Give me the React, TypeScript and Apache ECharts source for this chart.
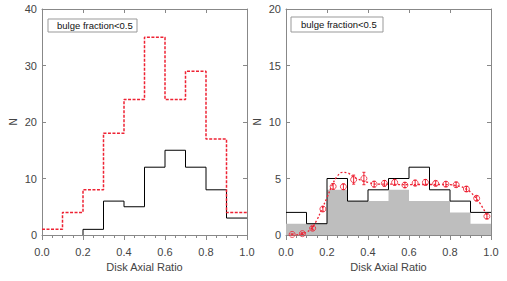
import React, { useEffect, useRef } from "react";
import * as echarts from "echarts";

// Bin edges (left edges) shared by all histograms
const binStarts = [0.0, 0.1, 0.2, 0.3, 0.4, 0.5, 0.6, 0.7, 0.8, 0.9];
const binWidth = 0.1;

// Left panel
const leftRed = [1, 4, 8, 18, 24, 35, 24, 29, 17, 4];
const leftBlack = [0, 0, 1, 6, 5, 12, 15, 12, 8, 3];

// Right panel
const rightBlack = [2, 1, 5, 3, 4, 5, 6, 4, 3, 2];
const rightGray = [1, 1, 4, 3, 3, 4, 3, 3, 2, 1];

const pointX = [0.03, 0.08, 0.13, 0.18, 0.23, 0.28, 0.33, 0.38, 0.43, 0.48, 0.53, 0.58, 0.63, 0.68, 0.73, 0.78, 0.83, 0.88, 0.93, 0.98];
const pointY = [0.05, 0.12, 0.6, 2.3, 4.3, 4.27, 4.9, 5.0, 4.5, 4.57, 4.66, 4.42, 4.6, 4.66, 4.57, 4.5, 4.45, 4.07, 3.25, 1.65];
const pointErr = [0.05, 0.08, 0.15, 0.2, 0.25, 0.25, 0.4, 0.55, 0.25, 0.25, 0.25, 0.22, 0.25, 0.25, 0.22, 0.22, 0.22, 0.22, 0.22, 0.2];

const curveX = [0.05, 0.075, 0.1, 0.125, 0.15, 0.175, 0.2, 0.225, 0.25, 0.275, 0.3, 0.325, 0.35, 0.375, 0.4, 0.45, 0.5, 0.55, 0.6, 0.65, 0.7, 0.75, 0.8, 0.85, 0.875, 0.9, 0.925, 0.95, 0.985];
const curveY = [0.0, 0.1, 0.25, 0.6, 1.3, 2.3, 3.3, 4.4, 5.2, 5.55, 5.5, 5.2, 4.95, 4.8, 4.65, 4.5, 4.5, 4.47, 4.45, 4.47, 4.47, 4.47, 4.45, 4.3, 4.1, 3.8, 3.3, 2.7, 1.6];

const xTicks = [0, 0.2, 0.4, 0.6, 0.8, 1.0];
const leftYMax = 40;
const rightYMax = 20;

const legendText = "bulge fraction<0.5";
const xName = "Disk Axial Ratio";
const yName = "N";

const RED = "#ee2233";
const AXIS = "#888888";
const LABEL = "#444444";
const FONT = "Liberation Sans";

function stepData(values: number[]) {
  const d: number[][] = [];
  let first = values.findIndex((v) => v !== 0);
  if (first < 0) first = 0;
  if (first > 0) d.push([binStarts[first], 0]);
  for (let i = first; i < values.length; i++) d.push([binStarts[i], values[i]]);
  d.push([binStarts[values.length - 1] + binWidth, values[values.length - 1]]);
  return d;
}

function axesFor(gridIndex: number, yMax: number, yInterval: number) {
  const x = [
    {
      type: "value", gridIndex, min: xTicks[0], max: xTicks[xTicks.length - 1], interval: 0.2,
      axisLine: { show: true, onZero: false, lineStyle: { color: AXIS, width: 1 } },
      axisTick: { show: true, inside: false, length: 5, lineStyle: { color: AXIS } },
      minorTick: { show: true, splitNumber: 4, length: 3, lineStyle: { color: AXIS } },
      splitLine: { show: false },
      axisLabel: { margin: 11, color: LABEL, fontFamily: FONT, fontSize: 11, formatter: (v: number) => v.toFixed(1) },
      name: xName, nameLocation: "middle", nameGap: 26,
      nameTextStyle: { color: LABEL, fontFamily: FONT, fontSize: 11 },
    },
    {
      type: "value", gridIndex, position: "top", min: 0, max: 1, interval: 0.2,
      axisLine: { show: true, onZero: false, lineStyle: { color: AXIS, width: 1 } },
      axisTick: { show: true, inside: true, length: 4, lineStyle: { color: AXIS } },
      splitLine: { show: false }, axisLabel: { show: false },
    },
  ];
  const y = [
    {
      type: "value", gridIndex, min: 0, max: yMax, interval: yInterval,
      axisLine: { show: true, onZero: false, lineStyle: { color: AXIS, width: 1 } },
      axisTick: { show: true, inside: true, length: 4, lineStyle: { color: AXIS } },
      splitLine: { show: false },
      axisLabel: { margin: 5, color: LABEL, fontFamily: FONT, fontSize: 11 },
      name: yName, nameLocation: "middle", nameGap: 24, nameRotate: 90,
      nameTextStyle: { color: LABEL, fontFamily: FONT, fontSize: 10 },
    },
    {
      type: "value", gridIndex, position: "right", min: 0, max: yMax, interval: yInterval,
      axisLine: { show: true, onZero: false, lineStyle: { color: AXIS, width: 1 } },
      axisTick: { show: true, inside: true, length: 4, lineStyle: { color: AXIS } },
      splitLine: { show: false }, axisLabel: { show: false },
    },
  ];
  return { x, y };
}

export default function App() {
  const ref = useRef<HTMLDivElement>(null);
  useEffect(() => {
    if (!ref.current) return;
    const chart = echarts.init(ref.current, null, { renderer: "svg" });
    const a0 = axesFor(0, leftYMax, 10);
    const a1 = axesFor(1, rightYMax, 5);
    const points = pointX.map((x, i) => [x, pointY[i], pointErr[i]]);
    const curve = curveX.map((x, i) => [x, curveY[i]]);
    chart.setOption({
      animation: false,
      backgroundColor: "#ffffff",
      grid: [
        { left: 42, top: 9, width: 205, height: 226 },
        { left: 286, top: 9, width: 205, height: 226 },
      ],
      xAxis: [...a0.x, ...a1.x],
      yAxis: [...a0.y, ...a1.y],
      series: [
        {
          type: "line", xAxisIndex: 0, yAxisIndex: 0, step: "end", data: stepData(leftBlack),
          symbol: "none", lineStyle: { color: "#000", width: 1 }, z: 3,
        },
        {
          type: "line", xAxisIndex: 0, yAxisIndex: 0, step: "end", data: stepData(leftRed),
          symbol: "none", lineStyle: { color: RED, width: 1.5, type: [3, 1.5] }, z: 4,
        },
        {
          type: "line", xAxisIndex: 2, yAxisIndex: 2, step: "end", data: stepData(rightGray),
          symbol: "none", lineStyle: { width: 0, color: "#bebebe" },
          areaStyle: { color: "#bebebe", opacity: 1 }, z: 1,
        },
        {
          type: "line", xAxisIndex: 2, yAxisIndex: 2, step: "end", data: stepData(rightBlack),
          symbol: "none", lineStyle: { color: "#000", width: 1 }, z: 3,
        },
        {
          type: "line", xAxisIndex: 2, yAxisIndex: 2, data: curve, smooth: 0.4,
          symbol: "none", lineStyle: { color: RED, width: 1.3, type: [2, 2] }, z: 4,
        },
        {
          type: "custom", xAxisIndex: 2, yAxisIndex: 2, data: points, z: 5,
          encode: { x: 0, y: 1 },
          renderItem: (_p: any, api: any) => {
            const x = api.value(0), y = api.value(1), e = api.value(2);
            const t = api.coord([x, y + e]);
            const b = api.coord([x, Math.max(0, y - e)]);
            const c = 1.5;
            const st = { stroke: RED, lineWidth: 1 };
            return {
              type: "group",
              children: [
                { type: "line", shape: { x1: t[0], y1: t[1], x2: b[0], y2: b[1] }, style: st },
                { type: "line", shape: { x1: t[0] - c, y1: t[1], x2: t[0] + c, y2: t[1] }, style: st },
                { type: "line", shape: { x1: b[0] - c, y1: b[1], x2: b[0] + c, y2: b[1] }, style: st },
              ],
            };
          },
        },
        {
          type: "scatter", xAxisIndex: 2, yAxisIndex: 2, data: points.map((p) => [p[0], p[1]]),
          symbol: "circle", symbolSize: 6, z: 6,
          itemStyle: { color: "rgba(255,255,255,0)", borderColor: RED, borderWidth: 1 },
        },
      ],
      graphic: [
        { type: "rect", shape: { x: 48, y: 19, width: 89, height: 13 }, style: { fill: "#fff", stroke: "#999", lineWidth: 1 }, z: 10 },
        { type: "text", x: 57, y: 25.5, style: { text: legendText, fontFamily: FONT, fontSize: 9.5, fill: "#111", textVerticalAlign: "middle", verticalAlign: "middle" }, z: 11 },
        { type: "rect", shape: { x: 291, y: 17, width: 92, height: 15 }, style: { fill: "#fff", stroke: "#999", lineWidth: 1 }, z: 10 },
        { type: "text", x: 301, y: 24.5, style: { text: legendText, fontFamily: FONT, fontSize: 9.5, fill: "#111", textVerticalAlign: "middle", verticalAlign: "middle" }, z: 11 },
      ],
    });
    return () => chart.dispose();
  }, []);
  return <div ref={ref} style={{ position: "fixed", left: 0, top: 0, width: 507, height: 281 }} />;
}
